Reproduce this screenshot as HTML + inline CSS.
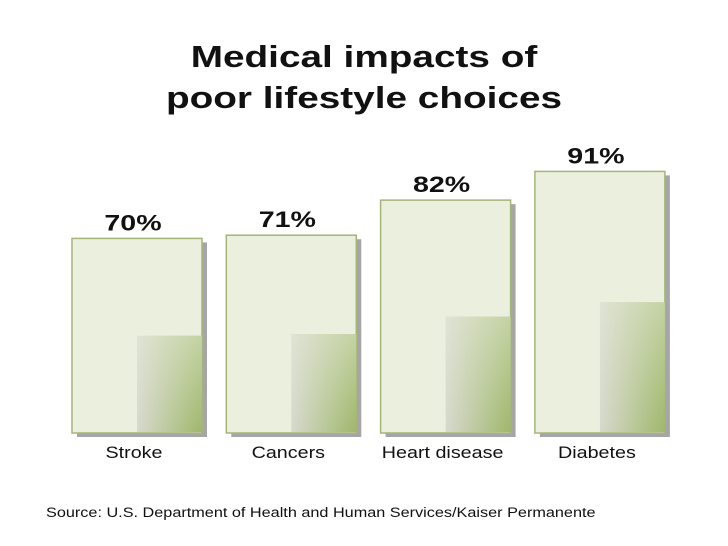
<!DOCTYPE html>
<html><head><meta charset="utf-8"><style>
body{margin:0;background:#fff;font-family:"Liberation Sans",Arial,sans-serif}
#c{position:relative;width:728px;height:546px;overflow:hidden}
svg text{font-family:"Liberation Sans",Arial,sans-serif}
</style></head><body>
<div id="c">
<svg width="728" height="546">
<defs>
<linearGradient id="gh" x1="0" y1="0" x2="1" y2="0"><stop offset="0" stop-color="#d6d9cd"/><stop offset="1" stop-color="#9fb76a"/></linearGradient>
<linearGradient id="gv" x1="0" y1="0" x2="0" y2="1"><stop offset="0" stop-color="#e9eedc" stop-opacity="0.5"/><stop offset="1" stop-color="#e9eedc" stop-opacity="0"/></linearGradient>
</defs>
<text transform="translate(364,67) scale(1.25,1)" text-anchor="middle" font-size="31" font-weight="bold" fill="#111">Medical impacts of</text>
<text transform="translate(364,108) scale(1.25,1)" text-anchor="middle" font-size="31" font-weight="bold" fill="#111">poor lifestyle choices</text>
<g id="bars"></g>
<text transform="translate(46,517) scale(1.16,1)" font-size="14" fill="#111">Source: U.S. Department of Health and Human Services/Kaiser Permanente</text>
</svg>
</div>
<script>
const categories=["Stroke","Cancers","Heart disease","Diabetes"];
const values=[70,71,82,91];
const valueLabels=["70%","71%","82%","91%"];
const baseY=433,k=3.19,vmin=9,barW=130,x0=72,step=154.3;
function y(v){return baseY-(v-vmin)*k;}
const g=document.getElementById('bars');const NS="http://www.w3.org/2000/svg";
function mk(t,a,p){const e=document.createElementNS(NS,t);for(const n in a)e.setAttribute(n,a[n]);(p||g).appendChild(e);return e;}
categories.forEach((c,i)=>{
 const x=x0+i*step,top=y(values[i]),h=baseY-top;
 const grp=mk('g',{});
 
 
 mk('rect',{x:x+5,y:top+4,width:barW,height:h,fill:'#a6a6a6'},grp);
 mk('rect',{x:x,y:top,width:barW,height:h,fill:'#ebf0de',stroke:'#a4b578','stroke-width':1.5},grp);
 mk('rect',{x:x+barW/2,y:baseY-h/2,width:barW/2,height:h/2-1,fill:'url(#gh)'},grp);
 mk('rect',{x:x+barW/2,y:baseY-h/2,width:barW/2,height:h/2-1,fill:'url(#gv)'},grp);
 const vl=mk('text',{transform:'translate('+(x+barW/2-4)+','+(top-8)+') scale(1.3,1)','text-anchor':'middle','font-size':22,'font-weight':'bold',fill:'#111'});
 vl.textContent=valueLabels[i];
 
 
 const cl=mk('text',{transform:'translate('+(x+barW/2-3)+',458) scale(1.16,1)','text-anchor':'middle','font-size':17,fill:'#111'});
 cl.textContent=c;
 
 
});
</script>
</body></html>
